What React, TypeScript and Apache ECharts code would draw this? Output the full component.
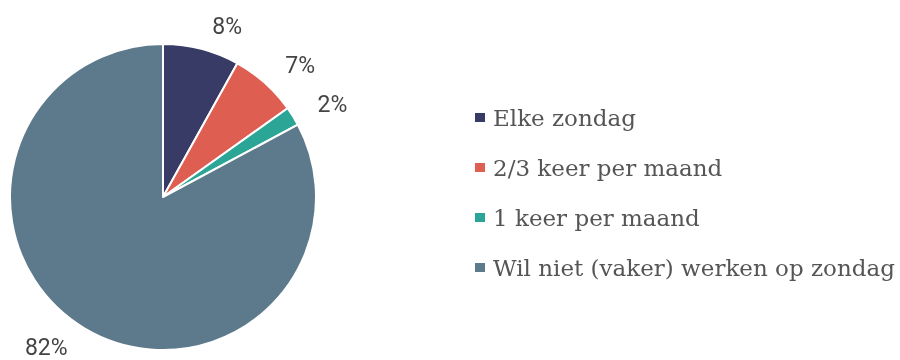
import React, { useEffect, useRef } from "react";
import * as echarts from "echarts";

const categories = ["Elke zondag", "2/3 keer per maand", "1 keer per maand", "Wil niet (vaker) werken op zondag"];
const values = [8, 7, 2, 82];
const colors = ["#373b66", "#df5e52", "#2aa596", "#5d7a8c"];

export default function App() {
  const ref = useRef<HTMLDivElement>(null);
  useEffect(() => {
    const chart = echarts.init(ref.current!, undefined, { renderer: "svg" });
    chart.setOption({
      animation: false,
      color: colors,
      legend: {
        orient: "vertical",
        left: 473,
        top: 106,
        padding: 0,
        itemWidth: 12,
        itemHeight: 11,
        itemGap: 27,
        icon: "rect",
        textStyle: { fontFamily: "DejaVu Serif", fontSize: 23, color: "#555555", padding: [0, 0, 0, 2] },
        data: categories,
      },
      series: [
        {
          type: "pie",
          center: [163, 197],
          radius: 153,
          startAngle: 90,
          clockwise: true,
          itemStyle: { borderColor: "#ffffff", borderWidth: 2 },
          label: {
            show: true,
            position: "outside",
            formatter: (p: any) => p.value + "%",
            fontFamily: "Roboto",
            fontSize: 23,
            color: "#444444",
          },
          labelLine: { show: false, length: 23, length2: 0 },
          // keep the bottom label inside the canvas
          labelLayout: (p: any) => {
            const r = p.labelRect;
            const overflow = r.y + r.height - 359;
            return overflow > 0 ? { dy: -overflow } : {};
          },
          emphasis: { disabled: true },
          data: categories.map((c, i) => ({ name: c, value: values[i] })),
        },
      ],
    });
    return () => chart.dispose();
  }, []);
  return <div ref={ref} style={{ position: "fixed", left: 0, top: 0, width: 900, height: 360 }} />;
}
